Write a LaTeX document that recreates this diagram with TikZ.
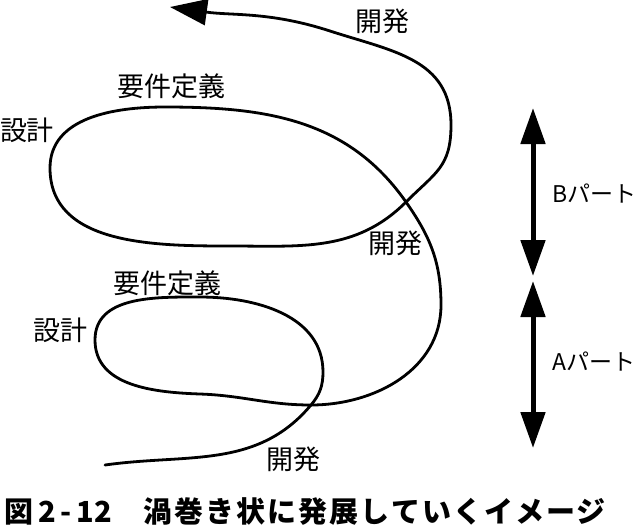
\documentclass[tikz,border=0pt]{standalone}
\usepackage{fontspec}
\setmainfont{Noto Sans CJK JP}
\usetikzlibrary{arrows.meta,positioning}

\tikzset{
  spiral/.style={line width=2.8pt,line cap=round},
  partarrow/.style={line width=5pt,-{Triangle[length=36pt,width=24pt]}},
  lbl/.style={inner sep=0pt,font=\fontsize{27}{30}\selectfont},
  partlbl/.style={inner sep=0pt,font=\fontsize{23}{26}\selectfont},
}

\begin{document}
\begin{tikzpicture}[x=1pt,y=-1pt]
\useasboundingbox (0,0) rectangle (635,531);

% points of the spiral
\coordinate (s0) at (105,465);
\coordinate (x1) at (311,405);
\coordinate (a1) at (323,372);
\coordinate (a2) at (200,297);
\coordinate (a3) at (95,340);
\coordinate (a4) at (200,394);
\coordinate (a5) at (441,305);
\coordinate (x2) at (406,202);
\coordinate (b1) at (165,107);
\coordinate (b2) at (50,168);
\coordinate (b3) at (230,246);
\coordinate (c1) at (451,125);
\coordinate (c2) at (330,31);
\coordinate (tip) at (170,7);

\draw[spiral] (s0) to[out=8,in=230] (x1) to[out=50,in=270] (a1)
  to[out=90,in=0] (a2) to[out=180,in=90] (a3) to[out=270,in=178] (a4)
  to[out=-2,in=180] (x1);
\draw[spiral] (x1) to[out=0,in=270] (a5) to[out=90,in=-55] (x2)
  to[out=125,in=0] (b1) to[out=180,in=90] (b2) to[out=270,in=180] (b3)
  to[out=0,in=225] (x2) to[out=45,in=270,looseness=1.2] (c1) to[out=90,in=-18,looseness=1.1] (c2);
\draw[spiral,-{Triangle[length=37pt,width=26pt]}] (c2) to[out=162,in=-8] (tip);

% labels
\node[lbl] (dev3) at (382,21) {開発};
\node[lbl] (req2) at (171,86) {要件定義};
\node[lbl] (des2) at (27,130) {設計};
\node[lbl] (dev2) at (395,243) {開発};
\node[lbl] (req1) at (167,283) {要件定義};
\node[lbl] (des1) at (61,330) {設計};
\node[lbl] (dev1) at (293,459) {開発};

% parts
\coordinate (bmid) at (533,192);
\coordinate (btop) at (533,108);
\coordinate (bbot) at (533,276);
\coordinate (amid) at (533,364);
\coordinate (atop) at (533,281);
\coordinate (abot) at (533,448);
\draw[partarrow] (bmid) -- (btop);
\draw[partarrow] (bmid) -- (bbot);
\draw[partarrow] (amid) -- (atop);
\draw[partarrow] (amid) -- (abot);
\node[partlbl,anchor=west] (bpart) at (552,194) {Bパート};
\node[partlbl,anchor=west] (apart) at (552,362) {Aパート};

% caption
\node[anchor=west,inner sep=0pt,font=\fontsize{29}{31}\selectfont\bfseries] (cap) at (4,512)
  {図\,2\,-\,12\hspace{0.1em}　{\addfontfeatures{LetterSpace=7}渦巻き状に発展していくイメージ}};
\end{tikzpicture}
\end{document}
